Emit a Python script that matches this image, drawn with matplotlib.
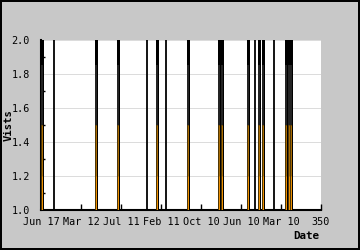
import matplotlib
matplotlib.use("Agg")
import matplotlib.pyplot as plt
from matplotlib.ticker import MultipleLocator

# Data
dates = [1.5, 16, 69, 96, 132, 145, 156, 184, 223, 226, 259, 267, 273, 278, 291, 306, 310, 312]
visits = [2.0] * len(dates)
orange_dates = [1.5, 69, 96, 145, 184, 223, 226, 259, 273, 278, 306, 310, 312]
orange_vals = [1.5] * len(orange_dates)
black_only = [16, 132, 156, 267, 291]

xtick_pos = [0, 50, 100, 150, 200, 250, 300, 350]
xtick_labels = ["Jun 17", "Mar 12", "Jul 11", "Feb 11", "Oct 10", "Jun 10", "Mar 10", "350"]
ytick_pos = [1.0, 1.2, 1.4, 1.6, 1.8, 2.0]

plt.rcParams['font.family'] = ['DejaVu Sans Mono']
fig = plt.figure(figsize=(3.6, 2.5), dpi=100, facecolor='#c8c8c8',
                 edgecolor='black', linewidth=1.5)
ax = fig.add_axes([41/360, 40/250, 280/360, 170/250])
ax.set_facecolor('white')

px = 72 / 100.0
for d, v in zip(dates, visits):
    w = 1.8 if d in black_only else 3.0
    ax.vlines(d, 1.0, v + 0.05, color='black', lw=w * px, zorder=3)
for d, v in zip(orange_dates, orange_vals):
    ax.vlines(d, 1.0, v + 0.35, color='#2e2e2e', lw=1.6 * px, zorder=4)
    ax.vlines(d, 1.0, v, color='#5c3d00', lw=1.6 * px, zorder=5)
    ax.vlines(d, 1.0, v, color='#c07800', lw=0.8 * px, zorder=6)
    ax.vlines(d, 1.0, 1.2, color='#ff9900', lw=0.8 * px, zorder=7)

ax.set_xlim(0, 350)
ax.set_ylim(1.0, 2.0)
ax.set_xticks(xtick_pos)
ax.set_xticklabels(xtick_labels)
ax.set_yticks(ytick_pos)
ax.set_yticklabels([f"{t:.1f}" for t in ytick_pos])
ax.yaxis.set_minor_locator(MultipleLocator(0.1))
ax.grid(axis='y', color='#dcdcdc', lw=1 * px, zorder=1)
ax.tick_params(axis='x', direction='in', length=4, width=1, pad=5, labelsize=7.3, colors='black')
ax.tick_params(axis='y', which='major', direction='in', length=0, pad=8, labelsize=7.3)
ax.tick_params(axis='y', which='minor', direction='in', length=3, width=1)
for s in ['top', 'right']:
    ax.spines[s].set_visible(False)
ax.spines['left'].set_linewidth(1.5)
ax.spines['bottom'].set_linewidth(1.5)

ax.set_ylabel("Vists", fontsize=7.6, fontweight='bold')
ax.yaxis.set_label_coords((13.5 - 41) / 280, 0.5)
fig.text(319/360, 1 - 236/250, "Date", fontsize=7.8, fontweight='bold', ha='right', va='center')

fig.savefig("out.png", dpi=100, facecolor=fig.get_facecolor(), edgecolor=fig.get_edgecolor())
